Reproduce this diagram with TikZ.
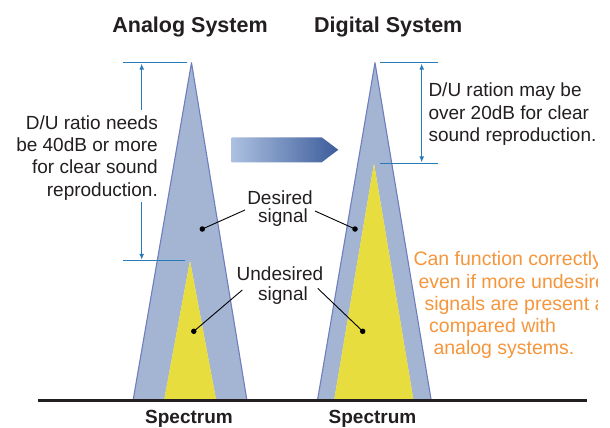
\documentclass[tikz,border=0pt]{standalone}
\usepackage{fontspec}
\setmainfont{Liberation Sans}
\usetikzlibrary{arrows.meta}
\definecolor{sigblue}{RGB}{163,181,211}
\definecolor{sigedge}{RGB}{112,126,190}
\definecolor{sigyellow}{RGB}{232,221,62}
\definecolor{dimblue}{RGB}{40,122,184}
\definecolor{noteorange}{RGB}{246,150,60}
\definecolor{arrowlight}{RGB}{172,192,224}
\definecolor{arrowdark}{RGB}{60,92,155}
\definecolor{textgray}{RGB}{35,31,32}
\begin{document}
\begin{tikzpicture}[x=1pt,y=-1pt,
  titletext/.style={font=\fontsize{21.5}{24}\selectfont\bfseries, anchor=base, inner sep=0pt, text=textgray},
  spectext/.style={font=\fontsize{19}{22}\selectfont\bfseries, anchor=base, inner sep=0pt, text=textgray},
  bodytext/.style={font=\fontsize{19}{22}\selectfont, inner sep=0pt, text=textgray},
  notetext/.style={font=\fontsize{19.5}{22}\selectfont, inner sep=0pt, text=noteorange, anchor=base west},
  dimline/.style={draw=dimblue, line width=1.5pt},
  dimarrow/.style={draw=dimblue, line width=1.5pt, -{Latex[length=6pt,width=5pt]}},
  leader/.style={draw=black, line width=0.9pt},
  dot/.style={circle, fill=black, inner sep=0pt, minimum size=5.5pt},
  peakedge/.style={draw=sigedge, line width=1.1pt, line join=round},
]
\useasboundingbox (0,0) rectangle (610,428);
\fill[white] (0,0) rectangle (610,428);

% titles
\node[titletext] (tanalog) at (190,32.3) {Analog System};
\node[titletext] (tdigital) at (388.3,32.3) {Digital System};

% analog peak
\begin{scope}[even odd rule]
\fill[sigblue] (133.3,399) -- (191.5,62.7) -- (246.7,399) -- cycle
               (164.3,399.5) -- (190,260.7) -- (216,399.5) -- cycle;
\end{scope}
\fill[sigyellow] (164.3,399) -- (190,260.7) -- (216,399) -- cycle;
\draw[peakedge] (133.3,399) -- (191.5,62.7) -- (246.7,399);

% digital peak
\begin{scope}[even odd rule]
\fill[sigblue] (317.7,399) -- (375,62.7) -- (431,399) -- cycle
               (334.3,399.5) -- (374,163.3) -- (413.3,399.5) -- cycle;
\end{scope}
\fill[sigyellow] (334.3,399) -- (374,163.3) -- (413.3,399) -- cycle;
\draw[peakedge] (317.7,399) -- (375,62.7) -- (431,399);

% baseline
\coordinate (bl) at (38,400.5);
\coordinate (br) at (587,400.5);
\draw[line width=2.2pt, draw=textgray] (bl) -- (br);
\node[spectext] (sa) at (189,423.5) {Spectrum};
\node[spectext] (sd) at (372.5,423.5) {Spectrum};

% analog dimension
\coordinate (ahl) at (123,62.7);
\coordinate (ahr) at (187,62.7);
\coordinate (alo) at (123,260.7);
\coordinate (alr) at (185,260.7);
\draw[dimline] (ahl) -- (ahr);
\draw[dimline] (alo) -- (alr);
\coordinate (atop) at (141.7,63.6);
\coordinate (abot) at (141.7,259.8);
\coordinate (agap1) at (141.7,110);
\coordinate (agap2) at (141.7,201.7);
\draw[dimarrow] (agap1) -- (atop);
\draw[dimarrow] (agap2) -- (abot);
\node[bodytext, anchor=base east] (at1) at (158,129.5) {D/U ratio needs};
\node[bodytext, anchor=base east] (at2) at (158,151.7) {be 40dB or more};
\node[bodytext, anchor=base east] (at3) at (158,173.9) {for clear sound};
\node[bodytext, anchor=base east] (at4) at (158,196.1) {reproduction.};

% digital dimension
\coordinate (dhl) at (380,62.7);
\coordinate (dhr) at (438.3,62.7);
\coordinate (dll) at (380,163.3);
\coordinate (dlr) at (438.3,163.3);
\draw[dimline] (dhl) -- (dhr);
\draw[dimline] (dll) -- (dlr);
\coordinate (dtop) at (421.7,63.6);
\coordinate (dbot) at (421.7,162.4);
\draw[draw=dimblue, line width=1.5pt, {Latex[length=6pt,width=5pt]}-{Latex[length=6pt,width=5pt]}] (dtop) -- (dbot);
\node[bodytext, anchor=base west] (dt1) at (428.3,96.7) {D/U ration may be};
\node[bodytext, anchor=base west] (dt2) at (428.3,119.1) {over 20dB for clear};
\node[bodytext, anchor=base west] (dt3) at (428.3,141.5) {sound reproduction.};

% middle arrow
\shade[left color=arrowlight, right color=arrowdark]
  (231.7,137.3) -- (321.7,137.3) -- (338.3,149.8) -- (321.7,162.3) -- (231.7,162.3) -- cycle;

% desired / undesired labels
\node[bodytext, anchor=base] (des1) at (280,204) {Desired};
\node[bodytext, anchor=base] (des2) at (283,222.7) {signal};
\node[bodytext, anchor=base] (und1) at (280,280) {Undesired};
\node[bodytext, anchor=base] (und2) at (283,300) {signal};

\node[dot] (dA) at (202.3,229) {};
\node[dot] (dD) at (355,229) {};
\node[dot] (uA) at (193.8,331.3) {};
\node[dot] (uD) at (362.7,331.3) {};
\coordinate (desL) at (245,210);
\coordinate (desR) at (315,211);
\coordinate (undL) at (242.3,290);
\coordinate (undR) at (317.7,288.3);
\draw[leader] (desL) -- (dA.center);
\draw[leader] (desR) -- (dD.center);
\draw[leader] (undL) -- (uA.center);
\draw[leader] (undR) -- (uD.center);

% orange note (clipped as in the original)
\begin{scope}
\clip (400,240) rectangle (597,370);
\node[notetext] (n1) at (413.3,265.7) {Can function correctly};
\node[notetext] (n2) at (418.3,288.0) {even if more undesired};
\node[notetext] (n3) at (424.3,310.3) {signals are present as};
\node[notetext] (n4) at (429,332.6) {compared with};
\node[notetext] (n5) at (433.3,354.9) {analog systems.};
\end{scope}
\end{tikzpicture}
\end{document}
